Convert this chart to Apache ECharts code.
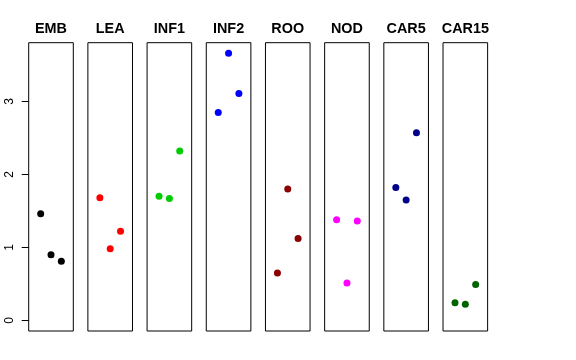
<!DOCTYPE html>
<html><head><meta charset="utf-8">
<script src="https://cdn.jsdelivr.net/npm/echarts@6/dist/echarts.min.js"></script>
<style>html,body{margin:0;padding:0;background:#fff}#c{width:576px;height:360px}</style>
</head><body><div id="c"></div>
<script>
const categories = ["EMB","LEA","INF1","INF2","ROO","NOD","CAR5","CAR15"];
const colors = ["#000000","#FF0000","#00CD00","#0000FF","#8B0000","#FF00FF","#00008B","#006400"];
const jitterX = [-1, 0, 1];
const values = [
  [1.46, 0.90, 0.81],
  [1.68, 0.98, 1.22],
  [1.70, 1.67, 2.32],
  [2.85, 3.66, 3.11],
  [0.65, 1.80, 1.12],
  [1.38, 0.51, 1.36],
  [1.82, 1.65, 2.57],
  [0.24, 0.22, 0.49]
];
const yTicks = [0, 1, 2, 3];

const chart = echarts.init(document.getElementById('c'), null, {renderer:'canvas'});
const grids = [], xAxes = [], yAxes = [], series = [], graphics = [];
const gLeft0 = 28.7, gStep = 59.19, gW = 44.6, gTop = 42.7, gH = 288.3;
const yMin = -0.1466, yMax = 3.806;
categories.forEach((cat, i) => {
  const l = gLeft0 + gStep * i;
  grids.push({left: l, top: gTop, width: gW, height: gH, show: true, borderColor: '#000', borderWidth: 1, backgroundColor: 'transparent'});
  xAxes.push({gridIndex: i, type: 'value', min: -2.16, max: 2.16, show: false});
  yAxes.push({gridIndex: i, type: 'value', min: yMin, max: yMax,
    show: i === 0,
    splitLine: {show: false},
    axisLine: {show: false, onZero: false},
    axisTick: {show: i === 0, length: 7, lineStyle: {color: '#000'}, customValues: yTicks},
    axisLabel: {show: i === 0, rotate: 90, color: '#000', fontSize: 12, margin: 13,
      fontFamily: 'Liberation Sans, Arial, sans-serif', customValues: yTicks}
  });
  series.push({type: 'scatter', xAxisIndex: i, yAxisIndex: i, symbol: 'circle', symbolSize: 7,
    itemStyle: {color: colors[i], opacity: 1},
    data: values[i].map((v, k) => [jitterX[k], v])});
  graphics.push({type: 'text', x: l + gW / 2, y: 29.5,
    style: {text: cat, textAlign: 'center', textVerticalAlign: 'middle',
      font: 'bold 14.4px "Liberation Sans", Arial, sans-serif', fill: '#000'}});
});
chart.setOption({
  animation: false,
  grid: grids, xAxis: xAxes, yAxis: yAxes, series: series,
  graphic: graphics
});
</script></body></html>
